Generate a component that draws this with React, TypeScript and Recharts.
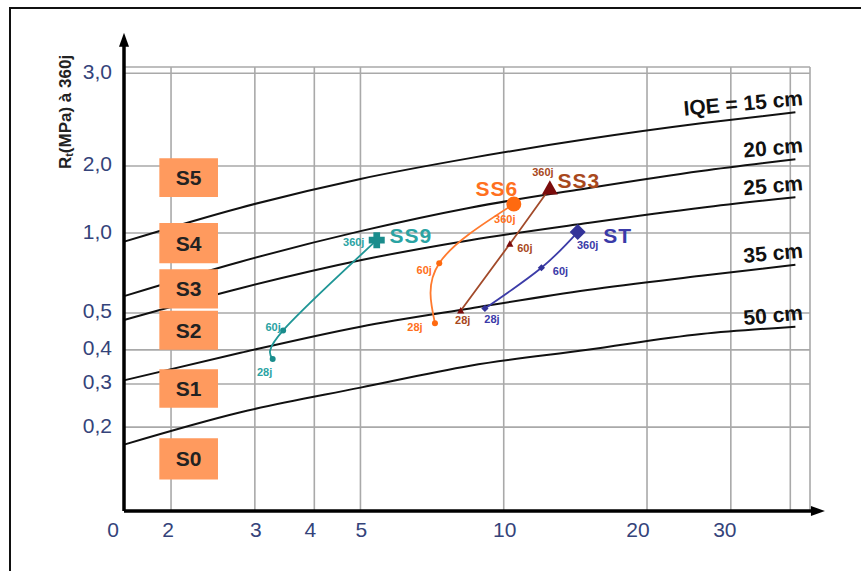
import React from "react";
import {
  ComposedChart,
  Line,
  XAxis,
  YAxis,
  CartesianGrid,
  ReferenceArea,
  ReferenceLine,
  LabelList,
} from "recharts";

// x axis is logarithmic; its origin carries the label "0"
const X_MIN = 1.593;
const X_MAX = 44;
const X_ARROW = 47.3;
const X_TICKS = [X_MIN, 2, 3, 4, 5, 10, 20, 30, 40];
const X_TICK_LABELS = ["0", "2", "3", "4", "5", "10", "20", "30", ""];
// horizontal nudge of each x label, in px
const X_LABEL_SHIFT = [-11, -3, 1, -4, 1, 1, -9, -6, 0];

// y axis: graduated grid, log-interpolated between graduations (0..100 axis units)
const Y_TICKS = [0.2, 0.3, 0.4, 0.5, 1, 2, 3];
const Y_TICK_LABELS = ["0,2", "0,3", "0,4", "0,5", "1,0", "2,0", "3,0"];
const Y_TICK_POS = [18.9, 28.6, 36.3, 44.6, 62.6, 77.7, 98.6];
const Y_TOP = 100;
const Y_ARROW = 107.7;

// IQE abacus curves (Rt in MPa)
const IQE_X = [1.6, 2.8, 5, 8.5, 15, 26, 41];
const IQE_15 = [0.93, 1.3, 1.75, 2.07, 2.25, 2.41, 2.53];
const IQE_20 = [0.58, 0.78, 1.02, 1.3, 1.59, 1.9, 2.06];
const IQE_25 = [0.48, 0.62, 0.79, 0.94, 1.11, 1.3, 1.45];
const IQE_35 = [0.31, 0.39, 0.46, 0.52, 0.61, 0.69, 0.76];
const IQE_50 = [0.17, 0.23, 0.29, 0.35, 0.4, 0.44, 0.46];
const IQE_LABELS = ["IQE = 15 cm", "20 cm", "25 cm", "35 cm", "50 cm"];

// measured mixes at 28, 60 and 360 days
const AGES = ["28j", "60j", "360j"];
const SS9_X = [3.27, 3.44, 5.41];
const SS9_Y = [0.37, 0.45, 0.94];
const SS6_X = [7.17, 7.32, 10.5];
const SS6_Y = [0.47, 0.77, 1.35];
const SS3_X = [8.12, 10.3, 12.5];
const SS3_Y = [0.51, 0.91, 1.59];
const ST_X = [9.13, 12.0, 14.3];
const ST_Y = [0.52, 0.74, 1.01];

// platform classes
const CLASSES = ["S0", "S1", "S2", "S3", "S4", "S5"];
const CLASS_LOW = [0.122, 0.24, 0.4, 0.52, 0.77, 1.45];
const CLASS_HIGH = [0.18, 0.34, 0.51, 0.73, 1.11, 2.07];
const CLASS_X = [1.89, 2.51];

const FONT = "'Liberation Sans', Arial, Helvetica, sans-serif";
const TICK_COLOR = "#34437a";

function toY(v: number) {
  const lv = Math.log10(v);
  const lt = Y_TICKS.map((t) => Math.log10(t));
  let i = 0;
  while (i < lt.length - 2 && lv > lt[i + 1]) i++;
  const t = (lv - lt[i]) / (lt[i + 1] - lt[i]);
  return Y_TICK_POS[i] + t * (Y_TICK_POS[i + 1] - Y_TICK_POS[i]);
}

const curves = [IQE_15, IQE_20, IQE_25, IQE_35, IQE_50].map((ys, k) => ({
  label: IQE_LABELS[k],
  data: IQE_X.map((x, i) => ({ x, y: toY(ys[i]) })),
}));

type Marker = "cross" | "circle" | "triangle" | "diamond";

interface SeriesStyle {
  name: string;
  xs: number[];
  ys: number[];
  line: string;
  marker: string;
  text: string;
  shape: Marker;
  curve: "natural" | "linear";
  tagOffsets: [number, number][];
  nameOffset: [number, number];
}

const series: SeriesStyle[] = [
  {
    name: "SS9",
    xs: SS9_X,
    ys: SS9_Y,
    line: "#1f9696",
    marker: "#1a8c8c",
    text: "#2aa3a3",
    shape: "cross",
    curve: "natural",
    tagOffsets: [[-8, 13], [-10, -3], [-23, 2]],
    nameOffset: [34, -5],
  },
  {
    name: "SS6",
    xs: SS6_X,
    ys: SS6_Y,
    line: "#ff7a2e",
    marker: "#ff6a10",
    text: "#ff7020",
    shape: "circle",
    curve: "natural",
    tagOffsets: [[-20, 4], [-15, 7], [-9, 15]],
    nameOffset: [-17, -16],
  },
  {
    name: "SS3",
    xs: SS3_X,
    ys: SS3_Y,
    line: "#a24a2a",
    marker: "#7b0c0c",
    text: "#a8481c",
    shape: "triangle",
    curve: "linear",
    tagOffsets: [[2, 9], [15, 4], [-7, -16]],
    nameOffset: [29, -8],
  },
  {
    name: "ST",
    xs: ST_X,
    ys: ST_Y,
    line: "#3c3ca8",
    marker: "#333399",
    text: "#3a3aa8",
    shape: "diamond",
    curve: "natural",
    tagOffsets: [[7, 11], [19, 3], [10, 13]],
    nameOffset: [40, 3],
  },
];

function markerPath(shape: Marker, cx: number, cy: number, big: boolean) {
  const s = big ? 8 : 3.6;
  if (shape === "triangle") {
    return `M${cx},${cy - s}L${cx + s},${cy + s * 0.8}L${cx - s},${cy + s * 0.8}Z`;
  }
  if (shape === "diamond") {
    return `M${cx},${cy - s}L${cx + s},${cy}L${cx},${cy + s}L${cx - s},${cy}Z`;
  }
  // plus-shaped marker
  const a = s * 0.42;
  return `M${cx - a},${cy - s}H${cx + a}V${cy - a}H${cx + s}V${cy + a}H${cx + a}V${cy + s}H${cx - a}V${cy + a}H${cx - s}V${cy - a}H${cx - a}Z`;
}

function renderMarker(s: SeriesStyle) {
  return (p: any) => {
    const big = p.index === 2;
    const key = `${s.name}-m-${p.index}`;
    if (p.cx == null || p.cy == null) return <g key={key} />;
    if (s.shape === "circle" || (s.shape === "cross" && !big)) {
      return <circle key={key} cx={p.cx} cy={p.cy} r={big ? 7.5 : 3} fill={s.marker} />;
    }
    return <path key={key} d={markerPath(s.shape, p.cx, p.cy, big)} fill={s.marker} />;
  };
}

function renderTags(s: SeriesStyle) {
  return (p: any) => {
    const i = p.index;
    const [dx, dy] = s.tagOffsets[i];
    return (
      <g key={`${s.name}-t-${i}`}>
        <text
          x={p.x + dx}
          y={p.y + dy}
          fontSize={11}
          fontWeight="bold"
          fontFamily={FONT}
          fill={s.text}
          textAnchor="middle"
          dominantBaseline="central"
        >
          {p.value}
        </text>
        {i === 2 && (
          <text
            x={p.x + s.nameOffset[0]}
            y={p.y + s.nameOffset[1]}
            fontSize={21}
            fontWeight="bold"
            fontFamily={FONT}
            fill={s.text}
            textAnchor="middle"
            dominantBaseline="central"
            letterSpacing={1}
          >
            {s.name}
          </text>
        )}
      </g>
    );
  };
}

function renderCurveLabel(label: string, last: number) {
  return (p: any) => {
    if (p.index !== last) return null;
    const x = p.x + 8;
    const y = p.y - 7;
    return (
      <text
        key={label}
        x={x}
        y={y}
        transform={`rotate(-5 ${x} ${y})`}
        fontSize={21}
        fontWeight="bold"
        fontFamily={FONT}
        fill="#111"
        textAnchor="end"
      >
        {label}
      </text>
    );
  };
}

const ArrowAxis = (p: any) => {
  const { x1, y1, x2, y2 } = p;
  const horiz = Math.abs(y2 - y1) < Math.abs(x2 - x1);
  const head = horiz
    ? `M${x2},${y2}L${x2 - 14},${y2 - 5}L${x2 - 14},${y2 + 5}Z`
    : `M${x2},${y2}L${x2 - 5},${y2 + 14}L${x2 + 5},${y2 + 14}Z`;
  return (
    <g>
      <line
        x1={x1}
        y1={y1}
        x2={horiz ? x2 - 10 : x2}
        y2={horiz ? y2 : y2 + 10}
        stroke="#000"
        strokeWidth={3.5}
      />
      <path d={head} fill="#000" />
    </g>
  );
};

const XTick = (p: any) => (
  <text
    x={p.x + X_LABEL_SHIFT[p.index]}
    y={p.y}
    dy="0.71em"
    fontSize={21}
    fontFamily={FONT}
    fill={TICK_COLOR}
    textAnchor="middle"
  >
    {X_TICK_LABELS[p.index]}
  </text>
);

const YTick = (p: any) => (
  <text
    x={p.x}
    y={p.y - 2}
    dy="0.355em"
    fontSize={21}
    fontFamily={FONT}
    fill={TICK_COLOR}
    textAnchor="end"
  >
    {Y_TICK_LABELS[p.index]}
  </text>
);

const YTitle = (p: any) => {
  const vb = p.viewBox || { x: 0, y: 67 };
  const x = vb.x + 65;
  const y = vb.y + 45;
  return (
    <text
      x={x}
      y={y}
      transform={`rotate(-90 ${x} ${y})`}
      fontSize={17}
      fontWeight="bold"
      fontFamily={FONT}
      fill="#222"
      textAnchor="middle"
      dominantBaseline="central"
    >
      <tspan>R</tspan>
      <tspan fontSize={11} dy={4}>
        t
      </tspan>
      <tspan dy={-4}>(MPa) à 360j</tspan>
    </text>
  );
};

export default function App() {
  return (
    <div
      style={{
        position: "fixed",
        left: 0,
        top: 0,
        width: 861,
        height: 571,
        background: "#fff",
        overflow: "hidden",
      }}
    >
      <div
        style={{
          position: "absolute",
          left: 9,
          top: 7,
          width: 900,
          height: 600,
          borderTop: "2.5px solid #111",
          borderLeft: "2px solid #111",
        }}
      />
      <div style={{ position: "absolute", left: 0, top: 0 }}>
        <ComposedChart
          width={861}
          height={571}
          margin={{ top: 67, right: 51, bottom: 30, left: 0 }}
        >
          <CartesianGrid stroke="#a9a9a9" strokeWidth={1.6} />
          <XAxis
            dataKey="x"
            type="number"
            scale="log"
            domain={[X_MIN, X_MAX]}
            ticks={X_TICKS}
            allowDataOverflow
            axisLine={false}
            tickLine={false}
            tickSize={0}
            tickMargin={11}
            height={30}
            tick={<XTick />}
            interval={0}
          />
          <YAxis
            type="number"
            domain={[0, Y_TOP]}
            ticks={Y_TICKS.map(toY)}
            allowDataOverflow
            axisLine={false}
            tickLine={false}
            tickSize={0}
            tickMargin={12}
            width={124}
            tick={<YTick />}
            interval={0}
            label={{ content: (p: any) => <YTitle {...p} /> }}
          />

          {curves.map((c) => (
            <Line
              key={c.label}
              data={c.data}
              dataKey="y"
              type="monotone"
              stroke="#111"
              strokeWidth={2}
              dot={false}
              activeDot={false}
              isAnimationActive={false}
            >
              <LabelList content={renderCurveLabel(c.label, c.data.length - 1)} />
            </Line>
          ))}

          {CLASSES.map((name, i) => (
            <ReferenceArea
              key={name}
              x1={CLASS_X[0]}
              x2={CLASS_X[1]}
              y1={toY(CLASS_LOW[i])}
              y2={toY(CLASS_HIGH[i])}
              fill="#ff9a5e"
              fillOpacity={1}
              stroke="none"
              ifOverflow="visible"
              zIndex={450}
              label={{
                value: name,
                position: "center",
                fontSize: 21,
                fontWeight: "bold",
                fontFamily: FONT,
                fill: "#222",
              }}
            />
          ))}

          {series.map((s) => (
            <Line
              key={s.name}
              data={s.xs.map((x, i) => ({ x, y: toY(s.ys[i]), tag: AGES[i] }))}
              dataKey="y"
              type={s.curve}
              stroke={s.line}
              strokeWidth={1.8}
              dot={renderMarker(s)}
              activeDot={false}
              isAnimationActive={false}
              zIndex={500}
            >
              <LabelList dataKey="tag" content={renderTags(s)} />
            </Line>
          ))}

          <ReferenceLine
            segment={[
              { x: X_MIN, y: 0 },
              { x: X_ARROW, y: 0 },
            ]}
            ifOverflow="visible"
            shape={ArrowAxis}
            zIndex={1500}
          />
          <ReferenceLine
            segment={[
              { x: X_MIN, y: 0 },
              { x: X_MIN, y: Y_ARROW },
            ]}
            ifOverflow="visible"
            shape={ArrowAxis}
            zIndex={1500}
          />
        </ComposedChart>
      </div>
    </div>
  );
}
